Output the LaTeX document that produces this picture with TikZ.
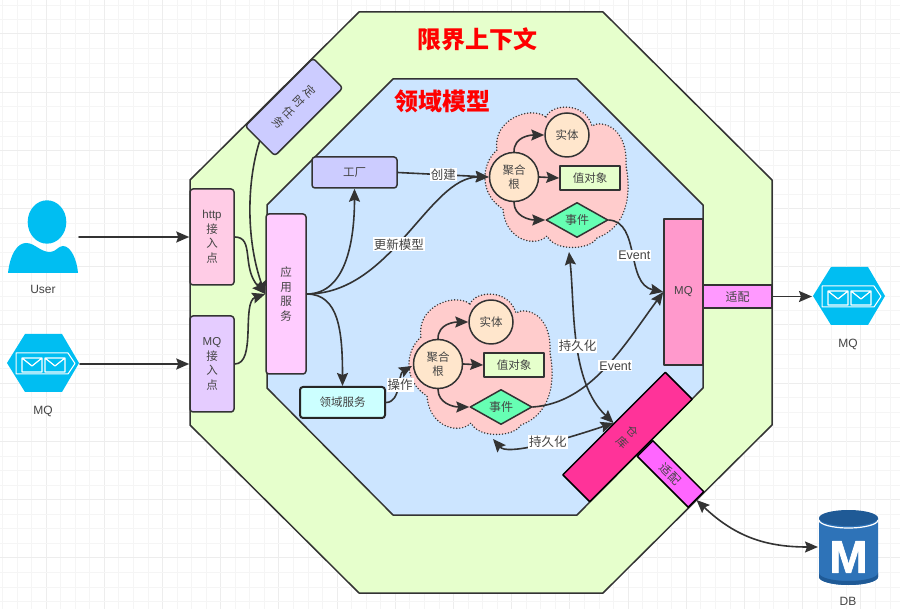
\documentclass[tikz,border=0pt]{standalone}
\usepackage{fontspec}
\setmainfont{Noto Sans CJK SC}
\newfontfamily\latinfont[BoldFeatures={FakeBold=1.5}]{Liberation Sans}
\usetikzlibrary{arrows.meta,shapes.geometric}
\definecolor{linegray}{HTML}{333333}
\definecolor{textgray}{HTML}{444444}
\definecolor{mqblue}{HTML}{00BEF2}
\definecolor{dbblue}{HTML}{2E73B8}
\definecolor{dbdark}{HTML}{1F5A96}
\begin{document}
\begin{tikzpicture}[line join=round, line cap=round, >={Stealth[length=13pt,width=11pt,inset=2pt]}, x=1pt, y=-1pt]
	\tikzset{
		every node/.style={text=textgray, font=\fontsize{11.5}{14.5}\selectfont, align=center, inner sep=0pt},
		block/.style={draw=linegray, line width=1.5pt, minimum width=#1},
		soft/.style={rounded corners=3pt},
		conn/.style={draw=linegray, line width=1.6pt},
		elabel/.style={fill=white, inner sep=1pt, font=\fontsize{12.5}{14}\selectfont},
		wlabel/.style={fill=white, inner sep=1pt, font=\latinfont\fontsize{12.5}{14}\selectfont},
		icontext/.style={font=\latinfont\fontsize{12}{14}\selectfont},
		bigtitle/.style={text=red, font=\fontsize{24}{28}\selectfont\bfseries},
		midtext/.style={font=\fontsize{12}{14.5}\selectfont},
	}
	\useasboundingbox (0,0) rectangle (900,609);
	\fill[white] (0,0) rectangle (900,609);
	\foreach \i in {-4,...,60} {
		\pgfmathsetmacro{\gx}{46+14.55*\i}
		\pgfmathsetmacro{\gy}{34+14.55*\i}
		\pgfmathtruncatemacro{\gm}{mod(\i+400,4)}
		\ifnum\gm=0
			\draw[black!7, line width=1pt] (\gx,0)--(\gx,609) (0,\gy)--(900,\gy);
		\else
			\draw[black!4, line width=.6pt] (\gx,0)--(\gx,609) (0,\gy)--(900,\gy);
		\fi
	}
	\draw[linegray, line width=1.5pt, fill={rgb,255:red,230;green,255;blue,204}] (359,12)--(603,12)--(772,180)--(772,425)--(603,593)--(359,593)--(190,425)--(190,180)--cycle;
	\draw[linegray, line width=1.5pt, fill={rgb,255:red,204;green,229;blue,255}] (393,79)--(577,79)--(703,205)--(703,388)--(577,515)--(393,515)--(267,388)--(267,205)--cycle;
	\node[bigtitle] (ctxtitle) at (477,39) {限界上下文};
	\node[bigtitle] (modeltitle) at (442,101) {领域模型};
	\foreach \n/\dx/\dy in {a/0/0,b/-76/187} {
		\begin{scope}[shift={(\dx,\dy)}]
			\draw[linegray, line width=1.6pt, dash pattern=on 0pt off 3pt, fill={rgb,255:red,255;green,204;blue,204}] (546,117) .. controls (552,103) and (585,102) .. (592,126) .. controls (600,120) and (628,125) .. (626,166) .. controls (630,185) and (632,225) .. (597,238) .. controls (590,250) and (555,252) .. (547,236) .. controls (535,248) and (505,240) .. (503,209) .. controls (480,195) and (480,165) .. (497,150) .. controls (492,120) and (530,105) .. (546,117) -- cycle;
			\node[block=49pt, circle, fill={rgb,255:red,255;green,230;blue,204}] (agg\n) at (514,177) {聚合\\根};
			\node[block=44pt, circle, fill={rgb,255:red,255;green,230;blue,204}] (ent\n) at (567,135) {实体};
			\node[block=60pt, minimum height=24pt, fill={rgb,255:red,230;green,255;blue,204}] (val\n) at (590,178) {值对象};
			\node[block=62pt, midtext, diamond, minimum height=35pt, fill={rgb,255:red,102;green,255;blue,179}] (evt\n) at (577,220) {事件};
			\coordinate (cloudw\n) at (488,179);
			\coordinate (clouds\n) at (569,252);
			\draw[conn,->] (agg\n.north) .. controls +(0,-15) and +(-14,0) .. (ent\n.west);
			\draw[conn,->] (agg\n.east)--(val\n.west);
			\draw[conn,->] (agg\n.south) .. controls +(0,14) and +(-16,0) .. (evt\n.west);
		\end{scope}
	}
	\node[block=44pt, soft, minimum height=96pt, fill={rgb,255:red,255;green,204;blue,230}] (http) at (212,237) {\latinfont http\\接\\入\\点};
	\node[block=44pt, soft, minimum height=96pt, fill={rgb,255:red,229;green,204;blue,255}] (mqin) at (212,364) {\latinfont MQ\\接\\入\\点};
	\node[block=42pt, soft, minimum height=96pt, rotate=-45, fill={rgb,255:red,204;green,204;blue,255}] (timer) at (294,107) {定\\时\\任\\务};
	\node[block=40pt, soft, minimum height=160pt, fill={rgb,255:red,255;green,204;blue,255}] (app) at (286,294) {应\\用\\服\\务};
	\node[block=85pt, soft, minimum height=31pt, fill={rgb,255:red,204;green,204;blue,255}] (factory) at (354.5,172.5) {工厂};
	\node[block=85pt, soft, line width=2pt, draw=black!85, minimum height=31pt, fill={rgb,255:red,204;green,255;blue,255}] (domain) at (342.5,402.5) {领域服务};
	\node[block=39pt, minimum height=146pt, fill={rgb,255:red,255;green,153;blue,204}] (mqbox) at (683.5,292) {\latinfont MQ};
	\node[block=69pt, midtext, minimum height=23pt, fill={rgb,255:red,255;green,153;blue,255}] (adapter) at (737.5,296.5) {适配};
	\node[block=38pt, draw=black, minimum height=145pt, rotate=-45, fill={rgb,255:red,255;green,51;blue,153}] (repo) at (627.5,437) {仓\\库};
	\node[block=72pt, midtext, draw=black, minimum height=22pt, rotate=-45, fill={rgb,255:red,255;green,102;blue,255}] (dbadapter) at (670.5,474) {适配};
	\fill[mqblue] (47,222) ellipse (19.3 and 21.7);
	\fill[mqblue] (8,273) .. controls (10,255) and (17,243) .. (26,243) .. controls (35,243) and (40,252) .. (50,252) .. controls (56,252) and (58,246) .. (63,246) .. controls (71,246) and (77,260) .. (78,273) -- cycle;
	\foreach \dx/\dy in {0/0,806/-67} {
		\begin{scope}[shift={(\dx,\dy)}]
			\fill[mqblue] (7,363)--(25,334)--(62,334)--(79,363)--(62,392)--(25,392)--cycle;
			\draw[white, line width=1pt] (16,353)--(68,353)--(75,363.5)--(68,374)--(16,374)--cycle;
			\foreach \ex in {22,45} {
				\draw[white, line width=1.2pt] (\ex,358) rectangle ++(20,14) (\ex,358)--++(10,8)--++(10,-8);
			}
		\end{scope}
	}
	\fill[dbblue] (819,518)--(819,577) arc[start angle=180, end angle=0, x radius=29.5, y radius=8]--(878,518)--cycle;
	\fill[dbdark] (819,573) arc[start angle=180, end angle=0, x radius=29.5, y radius=8]--(878,577) arc[start angle=0, end angle=180, x radius=29.5, y radius=8]--cycle;
	\draw[white, line width=1.2pt] (819,520) arc[start angle=180, end angle=0, x radius=29.5, y radius=8];
	\fill[dbdark] (848.5,518) ellipse (29.5 and 8);
	\node[text=white, font=\latinfont\fontsize{46}{46}\selectfont\bfseries] (dbmark) at (848.5,557) {M};
	\coordinate (usericon) at (79,237);
	\coordinate (mqicon) at (80,364);
	\coordinate (mqright) at (812,296.5);
	\coordinate (dbicon) at (818,547);
	\node[icontext] (userlabel) at (43,289) {User};
	\node[icontext] (mqlabel) at (43,411) {MQ};
	\node[icontext] (mqrlabel) at (848,344) {MQ};
	\node[icontext] (dblabel) at (848,601) {DB};
	\draw[conn,->] (usericon)--(http.west);
	\draw[conn,->] (mqicon)--(mqin.west);
	\draw[conn,->] (http.east) .. controls +(20,0) and +(-24,-26) .. (app.west);
	\draw[conn,->] (mqin.east) .. controls +(22,0) and +(-24,8) .. (app.west);
	\draw[conn,->] (timer.south) .. controls +(-14,45) and +(-18,-50) .. (app.west);
	\draw[conn,->] (app.east) .. controls +(40,0) and +(0,50) .. (factory.south);
	\draw[conn,->] (app.east) .. controls +(85,0) and +(-60,0) .. node[elabel,pos=.45] (updlabel) {更新模型} (agga.west);
	\draw[conn,->] (app.east) .. controls +(32,0) and +(0,-55) .. (domain.north);
	\draw[conn,->] (factory.east) -- node[elabel,pos=.5] (newlabel) {创建} (agga.west);
	\draw[conn,->] (domain.east) .. controls +(15,0) and +(-14,8) .. node[elabel,pos=.55] (oplabel) {操作} (cloudwb);
	\draw[conn,->] (evta.east) .. controls +(32,2) and +(-38,-8) .. node[wlabel,pos=.52] (evtlabela) {Event} (mqbox.west);
	\draw[conn,->] (evtb.east) .. controls +(58,-4) and +(-39,53) .. node[wlabel,pos=.56,yshift=-6pt,xshift=3pt] (evtlabelb) {Event} (mqbox.west);
	\draw[conn,<->] (cloudsa) .. controls +(6,55) and +(-44,-42) .. node[elabel,pos=.52] (savelabela) {持久化} (repo.west);
	\draw[conn,<->] (cloudsb) .. controls +(14,16) and +(-60,20) .. node[elabel,pos=.59] (savelabelb) {持久化} (repo.west);
	\draw[conn,->] (adapter.east)--(mqright);
	\draw[conn,<->] (dbadapter.east) .. controls +(40,38) and +(-50,0) .. (dbicon);
\end{tikzpicture}
\end{document}
